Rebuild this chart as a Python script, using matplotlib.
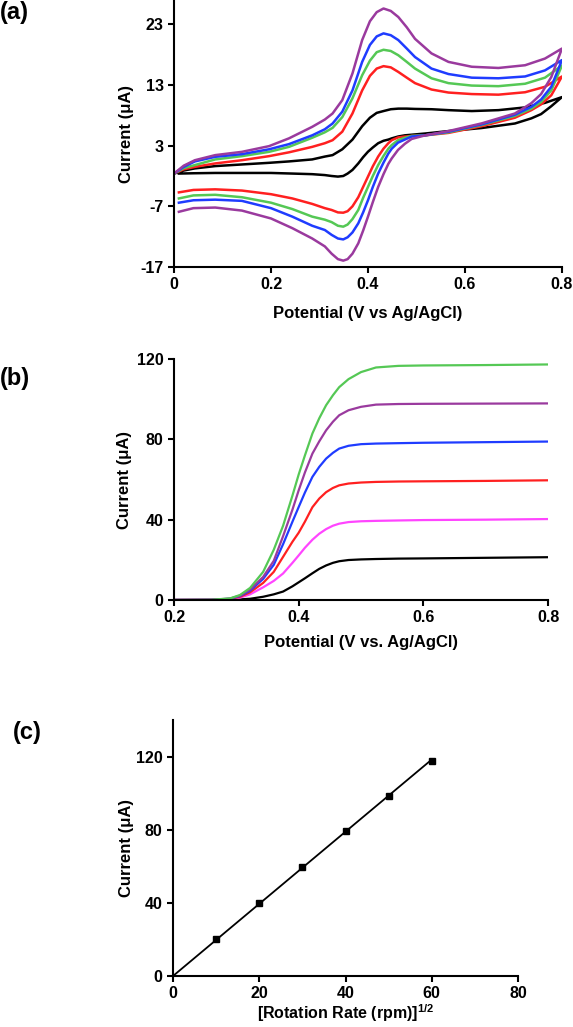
import numpy as np
import matplotlib
matplotlib.use("Agg")
import matplotlib.pyplot as plt

plt.rcParams['font.family'] = ['Liberation Sans', 'DejaVu Sans']
plt.rcParams['font.weight'] = 'bold'
plt.rcParams['axes.labelweight'] = 'bold'
plt.rcParams['axes.unicode_minus'] = False
plt.rcParams['mathtext.fontset'] = 'custom'
plt.rcParams['mathtext.rm'] = 'Liberation Sans:bold'
plt.rcParams['mathtext.default'] = 'rm'

# ---- (a) cyclic voltammograms: forward and reverse sweeps ----
cv_fwd_x = [0, 0.02, 0.043, 0.085, 0.14, 0.196, 0.237, 0.285, 0.311, 0.327, 0.347,
            0.368, 0.388, 0.404, 0.418, 0.432, 0.447, 0.4625, 0.48, 0.497, 0.531,
            0.566, 0.614, 0.669, 0.724, 0.765, 0.8]
cv_fwd_black = [-1.6, -1.1, -0.75, -0.37, -0.1, 0.17, 0.4, 0.73, 1.2, 1.44, 2.4,
                4.0, 6.2, 7.6, 8.4, 8.7, 9.0, 9.1, 9.1, 9.05, 9.0,
                8.85, 8.7, 8.85, 9.3, 10.05, 11.0]
cv_fwd_red = [-1.6, -0.9, -0.5, 0.07, 0.6, 1.27, 1.9, 2.8, 3.4, 3.9, 5.3,
              8.3, 12.1, 14.5, 15.7, 16.1, 15.9, 15.15, 14.2, 13.3, 12.25,
              11.75, 11.5, 11.4, 11.8, 12.7, 14.4]
cv_fwd_green = [-1.6, -0.7, -0.2, 0.73, 1.27, 1.98, 2.8, 4.3, 5.2, 5.93, 7.7,
                10.8, 14.6, 17.0, 18.4, 18.8, 18.6, 17.9, 16.8, 15.7, 14.1,
                13.3, 12.9, 12.8, 13.2, 14.2, 16.2]
cv_fwd_blue = [-1.6, -0.5, 0.4, 1.16, 1.6, 2.4, 3.25, 4.7, 5.7, 6.65, 8.6,
               12.1, 16.8, 19.6, 21.0, 21.5, 21.2, 20.4, 19.0, 17.6, 15.7,
               14.8, 14.2, 14.1, 14.4, 15.4, 17.1]
cv_fwd_purple = [-1.6, -0.3, 0.6, 1.44, 1.98, 2.92, 4.2, 6.1, 7.3, 8.3, 10.5,
                 14.9, 20.4, 23.5, 25.0, 25.6, 25.2, 24.2, 22.5, 20.6, 18.2,
                 16.8, 16.0, 15.8, 16.25, 17.35, 19.0]

cv_rev_x = [0.8, 0.778, 0.757, 0.737, 0.703, 0.634, 0.566, 0.518, 0.49, 0.476, 0.462,
            0.449, 0.442, 0.432, 0.421, 0.41, 0.4, 0.39, 0.38, 0.368, 0.358, 0.349,
            0.338, 0.325, 0.311, 0.285, 0.244, 0.2, 0.14, 0.085, 0.04, 0.01]
cv_rev_black = [11.0, 9.5, 8.2, 7.5, 6.65, 5.9, 5.4, 5.0, 4.8, 4.7, 4.5,
                4.2, 4.0, 3.8, 3.4, 2.7, 2.0, 1.1, 0.07, -1.0, -1.6, -2.0,
                -2.1, -2.0, -1.85, -1.7, -1.6, -1.5, -1.5, -1.5, -1.55, -1.6]
cv_rev_red = [14.4, 11.3, 9.8, 8.85, 7.6, 6.2, 5.1, 4.7, 4.6, 4.5, 4.35,
              3.9, 3.4, 2.5, 1.2, -0.4, -2.1, -3.8, -5.5, -7.0, -7.8, -8.05,
              -8.0, -7.6, -7.3, -6.6, -5.7, -5.0, -4.4, -4.2, -4.3, -4.7]
cv_rev_green = [16.2, 12.1, 10.2, 9.1, 7.9, 6.4, 5.2, 4.7, 4.6, 4.3, 3.9,
                3.1, 2.5, 1.3, -0.2, -2.0, -3.8, -5.6, -7.6, -9.1, -10.0, -10.35,
                -10.2, -9.6, -9.2, -8.7, -7.45, -6.4, -5.5, -5.1, -5.2, -5.7]
cv_rev_blue = [17.1, 12.7, 10.6, 9.4, 8.1, 6.5, 5.3, 4.7, 4.5, 4.0, 3.5,
               2.5, 1.7, 0.2, -1.6, -3.8, -6.0, -8.0, -9.8, -11.3, -12.1, -12.45,
               -12.3, -11.7, -10.9, -10.2, -8.7, -7.3, -6.1, -5.9, -6.0, -6.4]
cv_rev_purple = [19.0, 14.3, 11.5, 10.0, 8.3, 6.66, 5.4, 4.7, 4.1, 3.3, 2.3,
                 0.9, 0.0, -1.7, -3.8, -6.3, -8.7, -11.0, -13.1, -14.8, -15.7, -15.95,
                 -15.7, -14.8, -13.6, -12.3, -10.6, -9.0, -7.7, -7.2, -7.3, -7.9]

# ---- (b) linear sweep voltammograms at several rotation rates ----
lsv_x = [0.2, 0.26, 0.29, 0.306, 0.322, 0.343, 0.36, 0.375, 0.39, 0.4, 0.41, 0.422,
         0.433, 0.444, 0.455, 0.465, 0.48, 0.5, 0.524, 0.56, 0.6, 0.7, 0.8]
lsv_black = [0, 0, 0.1, 0.3, 0.6, 1.6, 2.8, 4.2, 6.8, 8.8, 10.8, 13.3,
             15.5, 17.2, 18.5, 19.3, 19.9, 20.2, 20.4, 20.6, 20.7, 21.0, 21.3]
lsv_magenta = [0, 0.1, 0.4, 1.2, 2.8, 6.3, 9.5, 13.2, 18.5, 22.2, 26, 30,
               33, 35.3, 37, 38, 38.8, 39.2, 39.4, 39.6, 39.8, 40.0, 40.3]
lsv_red = [0, 0.1, 0.5, 1.6, 3.8, 8.5, 14, 21.5, 29, 33.5, 39, 46.2,
           50.5, 53.7, 55.8, 57.1, 58, 58.5, 58.8, 59.0, 59.1, 59.3, 59.6]
lsv_blue = [0, 0.1, 0.6, 2.0, 4.6, 10.5, 17.5, 27.8, 39, 46.3, 53.5, 61.3,
            66.3, 70.4, 73.3, 75.4, 76.8, 77.6, 77.9, 78.1, 78.3, 78.6, 78.9]
lsv_purple = [0, 0.1, 0.7, 2.2, 5.2, 11.5, 19.5, 31.8, 45, 54.6, 63.5, 72.9,
              79, 84.5, 88.8, 92, 94.5, 96.2, 97.3, 97.6, 97.7, 97.8, 97.9]
lsv_green = [0, 0.1, 0.8, 2.5, 6, 14, 25, 37, 52, 62.5, 72, 82.9,
             90.5, 97, 102, 106, 110, 113.5, 115.8, 116.6, 116.8, 117.0, 117.3]

# ---- (c) Levich plot ----
rot_sqrt = [10, 20, 30, 40, 50, 60]
lim_current = [20.1, 40.1, 59.6, 79.3, 98.5, 117.8]

c_black = 'black'
c_red = '#ff2020'
c_green = '#55c855'
c_blue = '#1f3cff'
c_purple = '#9a3a9e'
c_magenta = '#ff45ff'

fig = plt.figure(figsize=(5.73, 10.27), dpi=100)


def style_axes(ax):
    for s in ['top', 'right']:
        ax.spines[s].set_visible(False)
    for s in ['left', 'bottom']:
        ax.spines[s].set_linewidth(1.5)
    ax.tick_params(direction='out', length=4, width=1.5, labelsize=11.5, pad=3.5)


# (a)
ax1 = fig.add_axes([0.3037, 0.740, 0.677, 0.260])
for yf, yr, col in [(cv_fwd_black, cv_rev_black, c_black),
                    (cv_fwd_red, cv_rev_red, c_red),
                    (cv_fwd_green, cv_rev_green, c_green),
                    (cv_fwd_blue, cv_rev_blue, c_blue),
                    (cv_fwd_purple, cv_rev_purple, c_purple)]:
    ax1.plot(cv_fwd_x + cv_rev_x, yf + yr, color=col, lw=1.8, solid_joinstyle='round')
ax1.set_xlim(0, 0.8)
ax1.set_ylim(-17, 27)
ax1.set_xticks([0, 0.2, 0.4, 0.6, 0.8])
ax1.set_xticklabels(['0', '0.2', '0.4', '0.6', '0.8'])
ax1.set_yticks([-17, -7, 3, 13, 23])
style_axes(ax1)
ax1.set_xlabel('Potential (V vs Ag/AgCl)', fontsize=12)
ax1.set_ylabel('Current (μA)', fontsize=12)

# (b)
ax2 = fig.add_axes([0.3037, 0.4158, 0.6527, 0.2346])
for y, col in [(lsv_black, c_black), (lsv_magenta, c_magenta), (lsv_red, c_red),
               (lsv_blue, c_blue), (lsv_purple, c_purple), (lsv_green, c_green)]:
    ax2.plot(lsv_x, y, color=col, lw=1.6, solid_joinstyle='round')
ax2.set_xlim(0.2, 0.8)
ax2.set_ylim(0, 120)
ax2.set_xticks([0.2, 0.4, 0.6, 0.8])
ax2.set_xticklabels(['0.2', '0.4', '0.6', '0.8'])
ax2.set_yticks([0, 40, 80, 120])
style_axes(ax2)
ax2.set_xlabel('Potential (V vs. Ag/AgCl)', fontsize=12)
ax2.set_ylabel('Current (μA)', fontsize=12)

# (c)
ax3 = fig.add_axes([0.302, 0.0497, 0.602, 0.2492])
xs = np.array(rot_sqrt, dtype=float)
ys = np.array(lim_current, dtype=float)
slope = np.sum(xs * ys) / np.sum(xs * xs)
ax3.plot([0, xs.max()], [0, slope * xs.max()], color='black', lw=1.3)
ax3.plot(xs, ys, 's', color='black', ms=5)
ax3.set_xlim(0, 80)
ax3.set_ylim(0, 140)
ax3.set_xticks([0, 20, 40, 60, 80])
ax3.set_yticks([0, 40, 80, 120])
style_axes(ax3)
ax3.set_xlabel('[Rotation Rate (rpm)]$^{1/2}$', fontsize=11.5)
ax3.set_ylabel('Current (μA)', fontsize=12)

# label placement
for ax, h_px, w_px, xl_off, yl_off in [(ax1, 267, 388, 46, 48),
                                       (ax2, 241, 374, 43, 50),
                                       (ax3, 256, 345, 37, 47)]:
    ax.xaxis.set_label_coords(0.5, -xl_off / h_px)
    ax.xaxis.label.set_va('center')
    ax.yaxis.set_label_coords(-yl_off / w_px, 0.5)
    ax.yaxis.label.set_va('center')

fig.text(0.0, 1 - 13 / 1027, '(a)', fontsize=17, fontweight='bold', va='center', ha='left')
fig.text(0.0, 1 - 378 / 1027, '(b)', fontsize=17, fontweight='bold', va='center', ha='left')
fig.text(13 / 573, 1 - 733 / 1027, '(c)', fontsize=17, fontweight='bold', va='center', ha='left')

fig.savefig('out.png', dpi=100)
